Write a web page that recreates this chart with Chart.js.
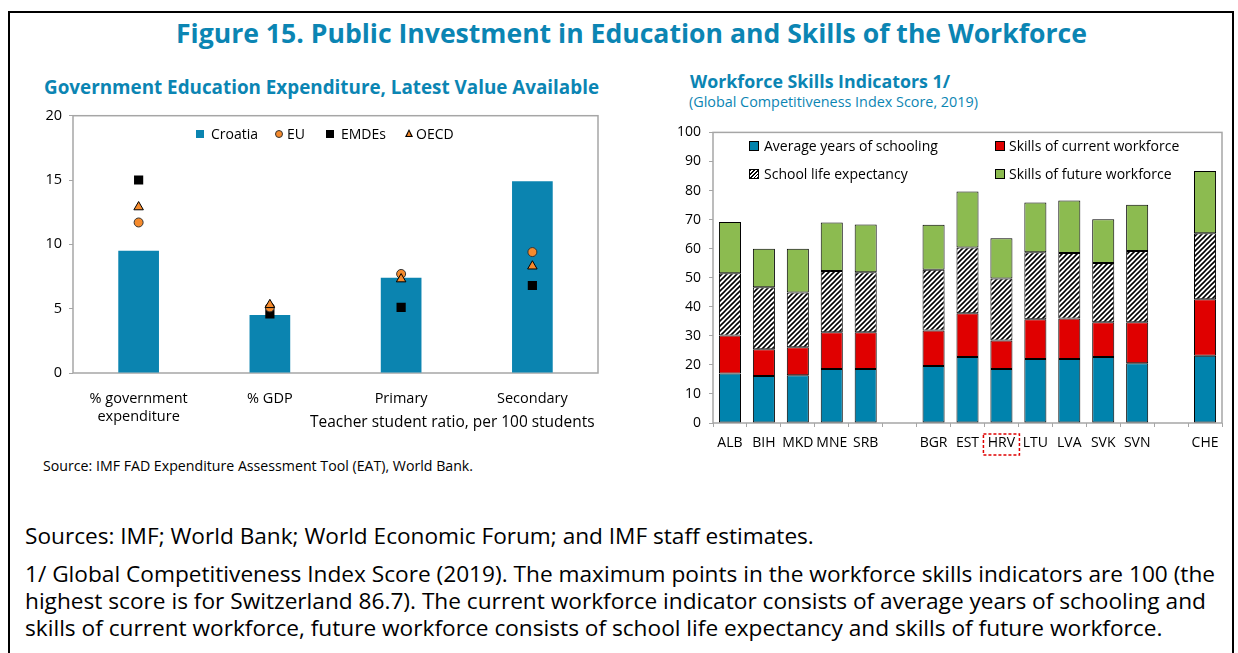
<!DOCTYPE html>
<html>
<head>
<meta charset="utf-8">
<title>Figure 15</title>
<script src="https://cdn.jsdelivr.net/npm/chart.js@4.4.0/dist/chart.umd.min.js"></script>
<style>
  body { margin: 0; width: 1238px; height: 653px; position: relative; overflow: hidden; background: #fff; font-family: "Open Sans", sans-serif; color: #000; }
  .frame { position: absolute; left: 8px; top: 11px; width: 1226px; height: 700px; border: 2.5px solid #000; box-sizing: border-box; }
  .t { position: absolute; white-space: nowrap; line-height: 1; }
  .blue { color: #0b85b3; font-weight: bold; }
  .box { position: absolute; }
  .leg { position: absolute; font-size: 14px; line-height: 1; white-space: nowrap; }
  .sw { position: absolute; box-sizing: border-box; }
</style>
</head>
<body>
<div class="frame"></div>

<div class="t blue fit" data-w="912" data-base="43.5" style="left:176px; font-size:24px;">Figure 15. Public Investment in Education and Skills of the Workforce</div>
<div class="t blue fit" data-w="556" data-base="95" style="left:44px; font-size:18px;">Government Education Expenditure, Latest Value Available</div>
<div class="t blue fit" data-w="260" data-base="89.3" style="left:690px; font-size:18px;">Workforce Skills Indicators 1/</div>
<div class="t fit" data-w="289" data-base="107.5" style="left:689px; font-size:13px; color:#0b85b3;">(Global Competitiveness Index Score, 2019)</div>

<div class="box" style="left:20px; top:100px; width:600px; height:345px;"><canvas id="leftChart" width="600" height="345"></canvas></div>
<div class="box" style="left:650px; top:116px; width:585px; height:344px;"><canvas id="rightChart" width="585" height="344"></canvas></div>

<div class="t fit" id="teacherNote" data-w="285" data-base="428" style="font-size:14px;">Teacher student ratio, per 100 students</div>
<div id="leftLegend"></div>
<div id="rightLegend"></div>

<div class="t fit" data-w="430" data-base="472" style="left:43px; font-size:13px;">Source: IMF FAD Expenditure Assessment Tool (EAT), World Bank.</div>
<div class="t fit" data-w="789" data-base="545" style="left:25px; font-size:20px;">Sources: IMF; World Bank; World Economic Forum; and IMF staff estimates.</div>
<div class="t fit" id="note1" data-w="1191" data-base="583.3" style="left:25px; font-size:20px;">1/ Global Competitiveness Index Score (2019). The maximum points in the workforce skills indicators are 100 (the</div>
<div class="t note" data-base="610" style="left:25px; font-size:20px;">highest score is for Switzerland 86.7). The current workforce indicator consists of average years of schooling and</div>
<div class="t note" data-base="636.7" style="left:25px; font-size:20px;">skills of current workforce, future workforce consists of school life expectancy and skills of future workforce.</div>

<script>
// left panel data
var eduCategories = [['% government', 'expenditure'], '% GDP', 'Primary', 'Secondary'];
var croatia = [9.5, 4.5, 7.4, 14.9];
var eu = [11.7, 5.1, 7.7, 9.4];
var emdes = [15.0, 4.6, 5.1, 6.8];
var oecd = [12.9, 5.3, 7.3, 8.3];
var eduTicks = [0, 5, 10, 15, 20];

// right panel data (blank labels are the gaps between country groups)
var countries = ['ALB', 'BIH', 'MKD', 'MNE', 'SRB', '', 'BGR', 'EST', 'HRV', 'LTU', 'LVA', 'SVK', 'SVN', '', 'CHE'];
var avgSchooling = [17.0, 16.2, 16.4, 18.6, 18.6, null, 19.6, 22.7, 18.6, 22.0, 22.0, 22.7, 20.6, null, 23.1];
var currentSkills = [13.1, 9.2, 9.7, 12.6, 12.6, null, 12.2, 15.1, 9.8, 13.7, 14.0, 12.0, 14.1, null, 19.5];
var schoolLife = [21.4, 21.3, 18.8, 21.1, 20.7, null, 20.9, 22.6, 21.3, 23.1, 22.5, 20.4, 24.5, null, 22.7];
var futureSkills = [17.7, 13.3, 15.1, 16.7, 16.4, null, 15.5, 19.3, 13.9, 17.1, 18.1, 15.0, 15.9, null, 21.4];
var skillTicks = [0, 10, 20, 30, 40, 50, 60, 70, 80, 90, 100];

var FONT = 'Open Sans';
var GRAY = '#a6a6a6';
var ORANGE = '#f58a2c';

// size the html texts so their widths match the figure (baseline offset for Open Sans, line-height 1)
function placeText(el, fs) {
  el.style.fontSize = fs + 'px';
  el.style.top = (+el.dataset.base - 0.888 * fs) + 'px';
}
document.querySelectorAll('.fit').forEach(function (el) {
  var fs = parseFloat(el.style.fontSize);
  fs = fs * (+el.dataset.w) / el.offsetWidth;
  placeText(el, fs);
});
var noteSize = parseFloat(document.getElementById('note1').style.fontSize);
document.querySelectorAll('.note').forEach(function (el) { placeText(el, noteSize); });
var teacher = document.getElementById('teacherNote');
teacher.style.left = (595 - teacher.offsetWidth) + 'px';

function makeHatch() {
  var c = document.createElement('canvas');
  c.width = 5; c.height = 5;
  var g = c.getContext('2d');
  g.fillStyle = '#fff';
  g.fillRect(0, 0, 5, 5);
  g.strokeStyle = '#000';
  g.lineWidth = 1.6;
  g.beginPath();
  g.moveTo(0, 5); g.lineTo(5, 0);
  g.moveTo(-2.5, 2.5); g.lineTo(2.5, -2.5);
  g.moveTo(2.5, 7.5); g.lineTo(7.5, 2.5);
  g.stroke();
  return g.createPattern(c, 'repeat');
}
var hatch = makeHatch();

// grey box round the plot area
var plotBox = {
  id: 'plotBox',
  beforeDatasetsDraw: function (chart) {
    var a = chart.chartArea, ctx = chart.ctx;
    ctx.save();
    ctx.strokeStyle = GRAY;
    ctx.lineWidth = 1.5;
    ctx.strokeRect(a.left, a.top, a.right - a.left, a.bottom - a.top);
    ctx.restore();
  }
};

// red dashed frame round the HRV label
var hrvBox = {
  id: 'hrvBox',
  afterDraw: function (chart) {
    var x = chart.scales.x.getPixelForValue(countries.indexOf('HRV'));
    var y = chart.scales.x.top;
    var ctx = chart.ctx;
    ctx.save();
    ctx.strokeStyle = '#e00000';
    ctx.lineWidth = 1.5;
    ctx.setLineDash([3, 2]);
    ctx.strokeRect(x - 18, y + 11, 36, 21);
    ctx.restore();
  }
};

function tickCallback(ticks) {
  return function (value) { return ticks.indexOf(value) >= 0 ? value : ''; };
}

new Chart(document.getElementById('leftChart'), {
  type: 'bar',
  data: {
    labels: eduCategories,
    datasets: [
      { label: 'OECD', type: 'line', data: oecd, showLine: false, pointStyle: 'triangle', pointRadius: 5.5,
        backgroundColor: ORANGE, borderColor: '#000', borderWidth: 1, order: 0 },
      { label: 'EU', type: 'line', data: eu, showLine: false, pointStyle: 'circle', pointRadius: 4.5,
        backgroundColor: ORANGE, borderColor: '#333', borderWidth: 1, order: 1 },
      { label: 'EMDEs', type: 'line', data: emdes, showLine: false, pointStyle: 'rect', pointRadius: 6.5,
        backgroundColor: '#000', borderColor: '#000', borderWidth: 0, order: 2 },
      { label: 'Croatia', data: croatia, backgroundColor: '#0b84b0', barPercentage: 0.31, categoryPercentage: 1, order: 10 }
    ]
  },
  options: {
    responsive: false,
    animation: false,
    layout: { padding: { top: 14, right: 22, bottom: 0, left: 0 } },
    plugins: { legend: { display: false }, tooltip: { enabled: false } },
    scales: {
      x: {
        grid: { display: false },
        border: { display: false },
        ticks: { color: '#000', font: { family: FONT, size: 14.5, lineHeight: 1.3 }, padding: 8, maxRotation: 0 },
        afterFit: function (s) { s.height = 72; }
      },
      y: {
        min: 0, max: 20,
        ticks: { stepSize: 5, color: '#000', font: { family: FONT, size: 14.5 }, padding: 7, callback: tickCallback(eduTicks) },
        grid: { drawOnChartArea: false, drawTicks: true, tickLength: 4, color: GRAY },
        border: { display: false },
        afterFit: function (s) { s.width = 53; }
      }
    }
  },
  plugins: [plotBox]
});

new Chart(document.getElementById('rightChart'), {
  type: 'bar',
  data: {
    labels: countries,
    datasets: [
      { label: 'Average years of schooling', data: avgSchooling, backgroundColor: '#0083ad' },
      { label: 'Skills of current workforce', data: currentSkills, backgroundColor: '#e00000' },
      { label: 'School life expectancy', data: schoolLife, backgroundColor: hatch },
      { label: 'Skills of future workforce', data: futureSkills, backgroundColor: '#8cbb50' }
    ]
  },
  options: {
    responsive: false,
    animation: false,
    datasets: { bar: { borderColor: '#000', borderWidth: 1, borderSkipped: false, barPercentage: 0.65, categoryPercentage: 1 } },
    layout: { padding: { top: 5, right: 13, bottom: 0, left: 0 } },
    plugins: { legend: { display: false }, tooltip: { enabled: false } },
    scales: {
      x: {
        stacked: true,
        grid: { drawOnChartArea: false, drawTicks: true, tickLength: 4, color: GRAY },
        border: { display: false },
        ticks: { color: '#000', font: { family: FONT, size: 14 }, padding: 8, maxRotation: 0, autoSkip: false },
        afterFit: function (s) { s.height = 37; }
      },
      y: {
        stacked: true,
        min: 0, max: 100,
        ticks: { stepSize: 10, color: '#000', font: { family: FONT, size: 14 }, padding: 8, callback: tickCallback(skillTicks) },
        grid: { drawOnChartArea: false, drawTicks: true, tickLength: 4, color: GRAY },
        border: { display: false },
        afterFit: function (s) { s.width = 63; }
      }
    }
  },
  plugins: [plotBox, hrvBox]
});

// legends drawn as html on top of the plot areas
function addItem(parent, y, text, swatchCss, textX) {
  var sw = document.createElement('div');
  sw.className = 'sw';
  sw.style.cssText += swatchCss;
  parent.appendChild(sw);
  if (!text) return;
  var t = document.createElement('div');
  t.className = 'leg';
  t.style.left = textX + 'px';
  t.style.top = (y - 7) + 'px';
  t.textContent = text;
  parent.appendChild(t);
}

var ll = document.getElementById('leftLegend');
addItem(ll, 134, 'Croatia', 'left:196px;top:130px;width:8px;height:8px;background:#0b84b0;', 211);
addItem(ll, 134, 'EU', 'left:275px;top:130px;width:8px;height:8px;border-radius:50%;background:' + ORANGE + ';border:1px solid #333;', 287);
addItem(ll, 134, 'EMDEs', 'left:326px;top:130px;width:8px;height:8px;background:#000;', 341);
addItem(ll, 134, 'OECD', 'left:405px;top:129px;width:0;height:0;border-left:4px solid transparent;border-right:4px solid transparent;border-bottom:8px solid #000;', 416);
// orange inside the triangle
addItem(ll, 0, '', 'left:406.5px;top:131px;width:0;height:0;border-left:2.5px solid transparent;border-right:2.5px solid transparent;border-bottom:5px solid ' + ORANGE + ';', 0);

var rl = document.getElementById('rightLegend');
addItem(rl, 146, 'Average years of schooling', 'left:749px;top:141px;width:10px;height:10px;background:#0083ad;border:1px solid #000;', 764);
addItem(rl, 146, 'Skills of current workforce', 'left:995px;top:141px;width:10px;height:10px;background:#e00000;border:1px solid #000;', 1009);
addItem(rl, 174, 'School life expectancy', 'left:749px;top:169px;width:10px;height:10px;border:1px solid #000;background:repeating-linear-gradient(135deg,#000 0 1.2px,#fff 1.2px 2.6px);', 764);
addItem(rl, 174, 'Skills of future workforce', 'left:995px;top:169px;width:10px;height:10px;background:#8cbb50;border:1px solid #000;', 1009);
</script>
</body>
</html>
